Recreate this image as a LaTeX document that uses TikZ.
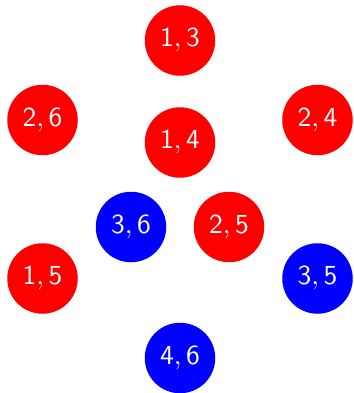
\documentclass[tikz,border=0pt]{standalone}
\newcommand{\lbl}[1]{\scalebox{2.75}{$\mathsf{#1}$}}
\begin{document}
\begin{tikzpicture}[x=1pt,y=-1pt,
  vtx/.style={circle,minimum size=70.5pt,inner sep=0pt,text=white},
  rv/.style={vtx,fill=red},
  bv/.style={vtx,fill=blue}]
\useasboundingbox (0,0) rectangle (353,393);
\node[rv] (n13) at (180,40.5) {\lbl{1,3}};
\node[rv] (n26) at (42.5,120) {\lbl{2,6}};
\node[rv] (n24) at (317.5,120) {\lbl{2,4}};
\node[rv] (n14) at (180,142.5) {\lbl{1,4}};
\node[bv] (n36) at (131,227) {\lbl{3,6}};
\node[rv] (n25) at (229,227) {\lbl{2,5}};
\node[rv] (n15) at (42.5,278.5) {\lbl{1,5}};
\node[bv] (n35) at (317.5,278.5) {\lbl{3,5}};
\node[bv] (n46) at (180,358) {\lbl{4,6}};
\end{tikzpicture}
\end{document}
